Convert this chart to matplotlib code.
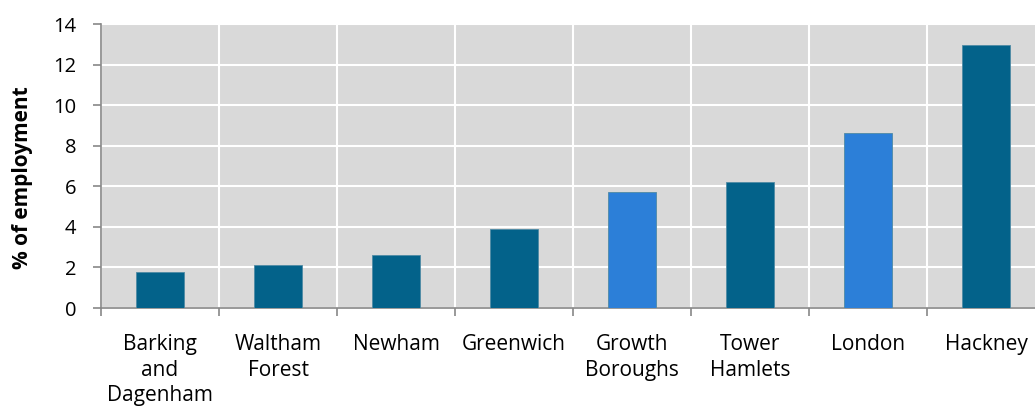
import numpy as np
import matplotlib.pyplot as plt

# Share of employment by borough
areas = ["Barking\nand\nDagenham", "Waltham\nForest", "Newham", "Greenwich",
         "Growth\nBoroughs", "Tower\nHamlets", "London", "Hackney"]
pct = [1.77, 2.12, 2.62, 3.90, 5.72, 6.20, 8.62, 12.98]
highlight = [False, False, False, False, True, False, True, False]

dark = "#03628A"
light = "#2C7FD8"

plt.rcParams['font.family'] = ['Open Sans', 'DejaVu Sans']

fig = plt.figure(figsize=(10.35, 4.19), dpi=100)
ax = fig.add_axes([101 / 1035, 111 / 419, 944 / 1035, 284 / 419])
ax.set_facecolor("#D9D9D9")

x = np.arange(len(areas))
colors = [light if h else dark for h in highlight]
ax.bar(x, pct, width=0.4, color=colors, edgecolor="#4F8AA5", linewidth=0.6, zorder=3)

ax.set_xlim(-0.5, len(areas) - 0.5)
ax.set_ylim(0, 14)
ax.set_yticks(np.arange(0, 15, 2))
ax.set_xticks(x)
ax.set_xticklabels(areas, fontsize=15, linespacing=1.27)
ax.set_xticks(np.arange(-0.5, len(areas), 1), minor=True)

ax.tick_params(axis='x', which='major', length=0, pad=19)
ax.tick_params(axis='x', which='minor', length=6, width=1.2, color="#888888", direction='out')
ax.tick_params(axis='y', length=6, width=1.2, color="#888888", labelsize=14.5, pad=12)

ax.grid(axis='y', color="white", linewidth=1.5, zorder=1)
ax.grid(axis='x', which='minor', color="white", linewidth=1.5, zorder=1)

for side in ["top", "right"]:
    ax.spines[side].set_visible(False)
for side in ["left", "bottom"]:
    ax.spines[side].set_color("#888888")
    ax.spines[side].set_linewidth(1.2)

ax.set_ylabel("% of employment", fontsize=15, fontweight="bold")
ax.yaxis.set_label_coords(-0.072, 0.46)

fig.savefig("out.png", dpi=100)
